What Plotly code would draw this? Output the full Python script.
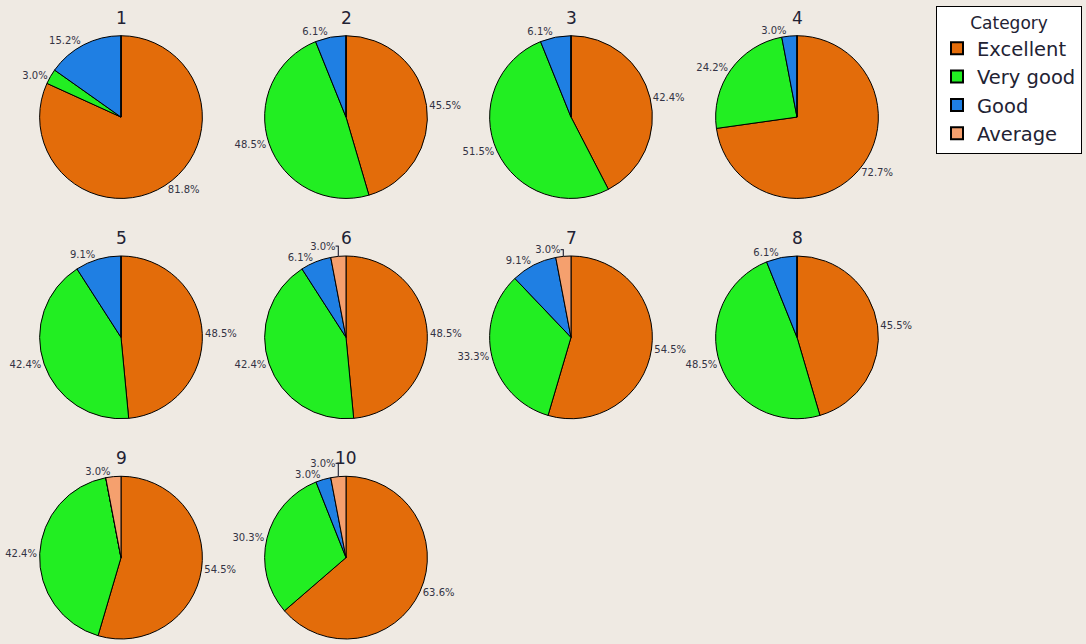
import plotly.graph_objects as go

W, H = 1086, 644

categories = ["Excellent", "Very good", "Good", "Average"]
pie_titles = ["1", "2", "3", "4", "5", "6", "7", "8", "9", "10"]

excellent = [81.8, 45.5, 42.4, 72.7, 48.5, 48.5, 54.5, 45.5, 54.5, 63.6]
very_good = [3.0, 48.5, 51.5, 24.2, 42.4, 42.4, 33.3, 48.5, 42.4, 30.3]
good      = [15.2, 6.1, 6.1, 3.0, 9.1, 6.1, 9.1, 6.1, 0.0, 3.0]
average   = [0.0, 0.0, 0.0, 0.0, 0.0, 3.0, 3.0, 0.0, 3.0, 3.0]

colors = ["#E36C0A", "#22EE22", "#1F7FE3", "#F5A06E"]

col_x = [121, 346, 571, 797]
row_y = [118, 340, 562]
R = 82

fig = go.Figure()
annotations = []
for i in range(len(pie_titles)):
    r, c = divmod(i, 4)
    cx, cy = col_x[c], row_y[r]
    vs = [excellent[i], very_good[i], good[i], average[i]]
    texts = [f"{v:.1f}%" if v > 0 else "" for v in vs]
    fig.add_trace(go.Pie(
        labels=categories, values=vs, sort=False, direction="clockwise", rotation=0,
        marker=dict(colors=colors, line=dict(color="black", width=1)),
        text=texts, textinfo="text", textposition="outside",
        outsidetextfont=dict(size=10, color="#333344", family="DejaVu Sans"),
        showlegend=(i == 5), legendgroup="cat",
        domain=dict(x=[(cx - R) / W, (cx + R) / W],
                    y=[1 - (cy + R) / H, 1 - (cy - R) / H]),
    ))
    annotations.append(dict(
        x=cx / W, y=1 - (cy - R) / H, xref="paper", yref="paper",
        text=pie_titles[i], showarrow=False, xanchor="center", yanchor="bottom",
        font=dict(size=17, color="#222233", family="DejaVu Sans"), yshift=6,
    ))

fig.update_layout(
    width=W, height=H,
    margin=dict(l=0, r=0, t=0, b=0),
    paper_bgcolor="#EFEAE3", plot_bgcolor="#EFEAE3",
    annotations=annotations,
    legend=dict(
        x=936 / W, y=1 - 6 / H, xanchor="left", yanchor="top",
        bgcolor="white", bordercolor="black", borderwidth=1,
        font=dict(size=19.5, color="#222233", family="DejaVu Sans"),
        title=dict(text="Category", side="top center",
                   font=dict(size=17, color="#222233", family="DejaVu Sans")),
        traceorder="normal", itemsizing="constant",
    ),
)

fig.write_html("out.html", config={"displayModeBar": False},
               post_script="document.body.style.margin='0';document.body.style.background='#EFEAE3';")
